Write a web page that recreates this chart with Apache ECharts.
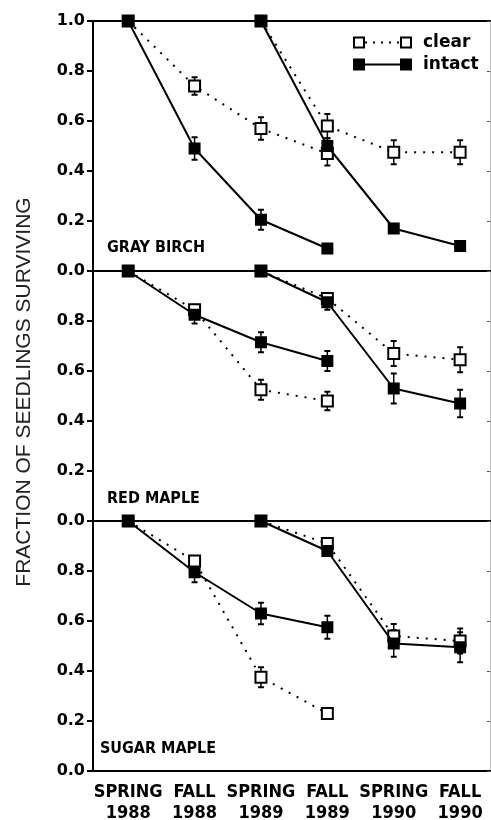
<!DOCTYPE html>
<html>
<head>
<meta charset="utf-8">
<script src="https://cdn.jsdelivr.net/npm/echarts@6/dist/echarts.min.js"></script>
<style>
  html, body { margin: 0; padding: 0; background: #fff; }
  #chart { width: 491px; height: 820px; }
</style>
</head>
<body>
<div id="chart"></div>
<script>
const xLabels = ['SPRING\n1988', 'FALL\n1988', 'SPRING\n1989', 'FALL\n1989', 'SPRING\n1990', 'FALL\n1990'];
const xTicks = [0, 1, 2, 3, 4, 5];
const panelNames = ['GRAY BIRCH', 'RED MAPLE', 'SUGAR MAPLE'];

// cohort 1 starts spring 1988 (x = 0), cohort 2 starts spring 1989 (x = 2)
const cohortStart = [0, 2];

// gray birch
const birchClear1 = [1.0, 0.74, 0.57, 0.47];
const birchClear2 = [1.0, 0.58, 0.475, 0.475];
const birchIntact1 = [1.0, 0.49, 0.205, 0.09];
const birchIntact2 = [1.0, 0.50, 0.17, 0.10];
const birchClearErr1 = [0, 0.035, 0.045, 0.048];
const birchClearErr2 = [0, 0.048, 0.048, 0.048];
const birchIntactErr1 = [0, 0.045, 0.04, 0];
const birchIntactErr2 = [0, 0.03, 0, 0];

// red maple
const redClear1 = [1.0, 0.845, 0.525, 0.48];
const redClear2 = [1.0, 0.89, 0.67, 0.645];
const redIntact1 = [1.0, 0.825, 0.715, 0.64];
const redIntact2 = [1.0, 0.875, 0.53, 0.47];
const redClearErr1 = [0, 0.02, 0.04, 0.037];
const redClearErr2 = [0, 0.015, 0.05, 0.05];
const redIntactErr1 = [0, 0.035, 0.04, 0.04];
const redIntactErr2 = [0, 0.03, 0.06, 0.055];

// sugar maple
const sugarClear1 = [1.0, 0.84, 0.375, 0.23];
const sugarClear2 = [1.0, 0.91, 0.54, 0.52];
const sugarIntact1 = [1.0, 0.795, 0.63, 0.575];
const sugarIntact2 = [1.0, 0.88, 0.51, 0.495];
const sugarClearErr1 = [0, 0.02, 0.04, 0];
const sugarClearErr2 = [0, 0.015, 0.048, 0.05];
const sugarIntactErr1 = [0, 0.04, 0.043, 0.046];
const sugarIntactErr2 = [0, 0.015, 0.053, 0.06];

const panels = [
  { clear: [birchClear1, birchClear2], clearErr: [birchClearErr1, birchClearErr2],
    intact: [birchIntact1, birchIntact2], intactErr: [birchIntactErr1, birchIntactErr2] },
  { clear: [redClear1, redClear2], clearErr: [redClearErr1, redClearErr2],
    intact: [redIntact1, redIntact2], intactErr: [redIntactErr1, redIntactErr2] },
  { clear: [sugarClear1, sugarClear2], clearErr: [sugarClearErr1, sugarClearErr2],
    intact: [sugarIntact1, sugarIntact2], intactErr: [sugarIntactErr1, sugarIntactErr2] }
];

const gridTops = [21, 271, 521];
const numFont = 'DejaVu Sans';
const narrowFont = '"Liberation Sans Narrow", "DejaVu Sans Condensed", "Liberation Sans"';

function pts(vals, start) {
  return vals.map((v, i) => [start + i, v]);
}

function errorBar(params, api) {
  const x = api.value(0);
  const lo = api.coord([x, api.value(1)]);
  const hi = api.coord([x, api.value(2)]);
  const w = 3;
  return {
    type: 'group',
    children: [
      { type: 'line', shape: { x1: lo[0], y1: lo[1], x2: hi[0], y2: hi[1] }, style: { stroke: '#000', lineWidth: 1.5 } },
      { type: 'line', shape: { x1: hi[0] - w, y1: hi[1], x2: hi[0] + w, y2: hi[1] }, style: { stroke: '#000', lineWidth: 2 } },
      { type: 'line', shape: { x1: lo[0] - w, y1: lo[1], x2: lo[0] + w, y2: lo[1] }, style: { stroke: '#000', lineWidth: 2 } }
    ]
  };
}

const grid = [], xAxis = [], yAxis = [], series = [];

panels.forEach((p, g) => {
  grid.push({ left: 93, right: 1, top: gridTops[g], height: 250, outerBoundsMode: 'none' });

  xAxis.push({
    type: 'value', gridIndex: g, min: -0.53, max: 5.45,
    axisLine: { show: true, onZero: false, lineStyle: { color: '#000', width: 2 } },
    axisTick: { show: false },
    splitLine: { show: false },
    axisLabel: g === 2 ? {
      show: true, customValues: xTicks, formatter: v => xLabels[v],
      fontFamily: narrowFont, fontWeight: 'bold', fontSize: 18, lineHeight: 21,
      color: '#000', margin: 11
    } : { show: false }
  });

  yAxis.push({
    type: 'value', gridIndex: g, min: 0, max: 1, interval: 0.2,
    axisLine: { show: true, onZero: false, lineStyle: { color: '#000', width: 2 } },
    axisTick: { show: true, length: 6, lineStyle: { color: '#000', width: 2 } },
    splitLine: { show: false },
    axisLabel: {
      formatter: v => v.toFixed(1), showMaxLabel: g === 0, showMinLabel: true,
      fontFamily: numFont, fontWeight: 'bold', fontSize: 16, color: '#000', margin: 8
    }
  });
  yAxis.push({
    type: 'value', gridIndex: g, position: 'right', min: 0, max: 1, interval: 0.2,
    axisLine: { show: true, onZero: false, lineStyle: { color: '#bbb', width: 1 } },
    axisTick: { show: true, inside: true, length: 3, lineStyle: { color: '#555', width: 1 } },
    splitLine: { show: false },
    axisLabel: { show: false }
  });

  const bars = [];
  ['clear', 'intact'].forEach(k => {
    p[k].forEach((vals, c) => {
      vals.forEach((v, i) => {
        const e = p[k + 'Err'][c][i];
        if (e > 0) bars.push([cohortStart[c] + i, v - e, v + e]);
      });
    });
  });
  series.push({
    type: 'custom', xAxisIndex: g, yAxisIndex: g * 2, z: 1, silent: true,
    encode: { x: 0, y: [1, 2] }, data: bars, renderItem: errorBar
  });

  p.clear.forEach((vals, c) => {
    series.push({
      type: 'line', name: 'clear', xAxisIndex: g, yAxisIndex: g * 2, z: 2,
      data: pts(vals, cohortStart[c]),
      symbol: 'rect', symbolSize: 11,
      lineStyle: { color: '#000', width: 2, type: [2, 7] },
      itemStyle: { color: '#fff', borderColor: '#000', borderWidth: 2 }
    });
  });
  p.intact.forEach((vals, c) => {
    series.push({
      type: 'line', name: 'intact', xAxisIndex: g, yAxisIndex: g * 2, z: 3,
      data: pts(vals, cohortStart[c]),
      symbol: 'rect', symbolSize: 12,
      lineStyle: { color: '#000', width: 2 },
      itemStyle: { color: '#000', borderColor: '#000', borderWidth: 0 }
    });
  });
});

// top frame line of the first panel
xAxis.push({
  type: 'value', gridIndex: 0, position: 'top', min: -0.53, max: 5.45,
  axisLine: { show: true, onZero: false, lineStyle: { color: '#000', width: 2 } },
  axisTick: { show: false }, axisLabel: { show: false }, splitLine: { show: false }
});

const labelPos = [[107, 249], [107, 500], [100, 750]];
const graphic = panelNames.map((name, i) => ({
  type: 'text', left: labelPos[i][0], top: labelPos[i][1] - 9,
  style: { text: name, font: 'bold 16px ' + narrowFont, fill: '#000' }
}));

graphic.push({
  type: 'text', x: 24, y: 392, rotation: Math.PI / 2,
  style: {
    text: 'FRACTION OF SEEDLINGS SURVIVING', font: '21px "Liberation Sans"',
    fill: '#222', align: 'center', verticalAlign: 'middle'
  }
});

// legend
graphic.push(
  { type: 'line', shape: { x1: 365, y1: 42.5, x2: 400, y2: 42.5 }, style: { stroke: '#000', lineWidth: 2, lineDash: [2, 6] } },
  { type: 'rect', shape: { x: 354, y: 37.5, width: 10, height: 10 }, style: { fill: '#fff', stroke: '#000', lineWidth: 2 } },
  { type: 'rect', shape: { x: 401, y: 37.5, width: 10, height: 10 }, style: { fill: '#fff', stroke: '#000', lineWidth: 2 } },
  { type: 'text', x: 423, y: 43, style: { text: 'clear', font: 'bold 17px ' + numFont, fill: '#000', verticalAlign: 'middle' } },
  { type: 'line', shape: { x1: 364, y1: 64.5, x2: 401, y2: 64.5 }, style: { stroke: '#000', lineWidth: 2 } },
  { type: 'rect', shape: { x: 353, y: 58.5, width: 12, height: 12 }, style: { fill: '#000' } },
  { type: 'rect', shape: { x: 400, y: 58.5, width: 12, height: 12 }, style: { fill: '#000' } },
  { type: 'text', x: 423, y: 65, style: { text: 'intact', font: 'bold 17px ' + numFont, fill: '#000', verticalAlign: 'middle' } }
);

const chart = echarts.init(document.getElementById('chart'));
chart.setOption({
  animation: false,
  backgroundColor: '#fff',
  grid, xAxis, yAxis, series, graphic
});
</script>
</body>
</html>
